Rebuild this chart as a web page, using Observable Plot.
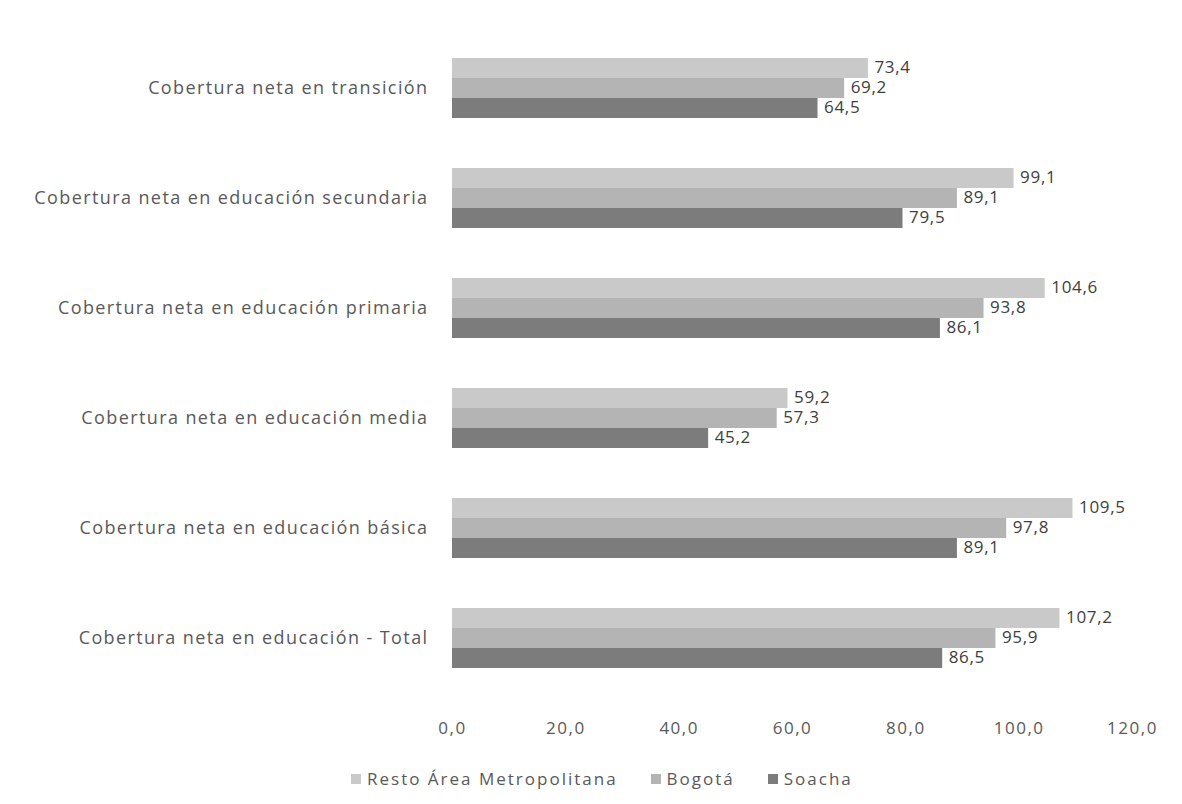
<!DOCTYPE html>
<html>
<head>
<meta charset="utf-8">
<script src="https://cdn.jsdelivr.net/npm/d3@7"></script>
<script src="https://cdn.jsdelivr.net/npm/@observablehq/plot@0.6"></script>
<style>
  html, body { margin: 0; padding: 0; background: #fff; }
  #chart { width: 1182px; }
  #chart svg { display: block; }
  #chart g[aria-label="fy-axis tick label"] text { letter-spacing: 1.4px; }
  #chart g[aria-label="x-axis tick label"] text { letter-spacing: 1.5px; }
  #chart g[aria-label="text"] text { letter-spacing: 0.7px; }
  .legend { display: flex; align-items: center; margin-top: 17px; padding-left: 351px; height: 23px; font-family: "Open Sans", sans-serif; font-size: 17px; letter-spacing: 2px; color: #595959; white-space: nowrap; }
  .legend .item { display: flex; align-items: center; margin-right: 33px; }
  .legend span.sw { display: inline-block; width: 10px; height: 10px; margin-right: 6px; }
</style>
</head>
<body>
<div id="chart"></div>
<script>
const categories = [
  "Cobertura neta en transición",
  "Cobertura neta en educación secundaria",
  "Cobertura neta en educación primaria",
  "Cobertura neta en educación media",
  "Cobertura neta en educación básica",
  "Cobertura neta en educación - Total"
];
const series = ["Resto Área Metropolitana", "Bogotá", "Soacha"];
const colors = ["#c9c9c9", "#b4b4b4", "#7c7c7c"];
const restoValues  = [73.4, 99.1, 104.6, 59.2, 109.5, 107.2];
const bogotaValues = [69.2, 89.1, 93.8, 57.3, 97.8, 95.9];
const soachaValues = [64.5, 79.5, 86.1, 45.2, 89.1, 86.5];
const xTicks = [0, 20, 40, 60, 80, 100, 120];

const seriesValues = [restoValues, bogotaValues, soachaValues];
const data = [];
categories.forEach((c, i) => {
  series.forEach((s, j) => data.push({category: c, series: s, value: seriesValues[j][i]}));
});
const fmt = v => d3.format(".1f")(v).replace(".", ",");

const chart = Plot.plot({
  width: 1182,
  height: 750,
  marginLeft: 452,
  marginRight: 50,
  marginTop: 31,
  marginBottom: 55,
  style: {fontFamily: "'Open Sans', sans-serif", color: "#595959", background: "#fff", overflow: "visible"},
  x: {domain: [0, 120], ticks: xTicks, tickFormat: fmt, label: null},
  fy: {domain: categories, paddingInner: 0.433, paddingOuter: 0.22, label: null},
  y: {domain: series, padding: 0, axis: null},
  color: {domain: series, range: colors},
  marks: [
    Plot.barX(data, {fy: "category", y: "series", x: "value", fill: "series"}),
    Plot.text(data, {fy: "category", y: "series", x: "value", text: d => fmt(d.value), textAnchor: "start", dx: 6, dy: -1, fontSize: 17, fill: "#404040"}),
    Plot.axisX({ticks: xTicks, tickFormat: fmt, tickSize: 0, tickPadding: 52, fontSize: 17, facetAnchor: "bottom", label: null, fill: "#595959"}),
    Plot.axisFy({tickSize: 0, tickPadding: 24, fontSize: 18, label: null, fill: "#595959", anchor: "left"})
  ]
});
const container = document.getElementById("chart");
container.appendChild(chart);

const legend = document.createElement("div");
legend.className = "legend";
series.forEach((s, j) => {
  const item = document.createElement("div");
  item.className = "item";
  const sw = document.createElement("span");
  sw.className = "sw";
  sw.style.background = colors[j];
  item.appendChild(sw);
  item.appendChild(document.createTextNode(s));
  legend.appendChild(item);
});
document.body.appendChild(legend);
</script>
</body>
</html>
